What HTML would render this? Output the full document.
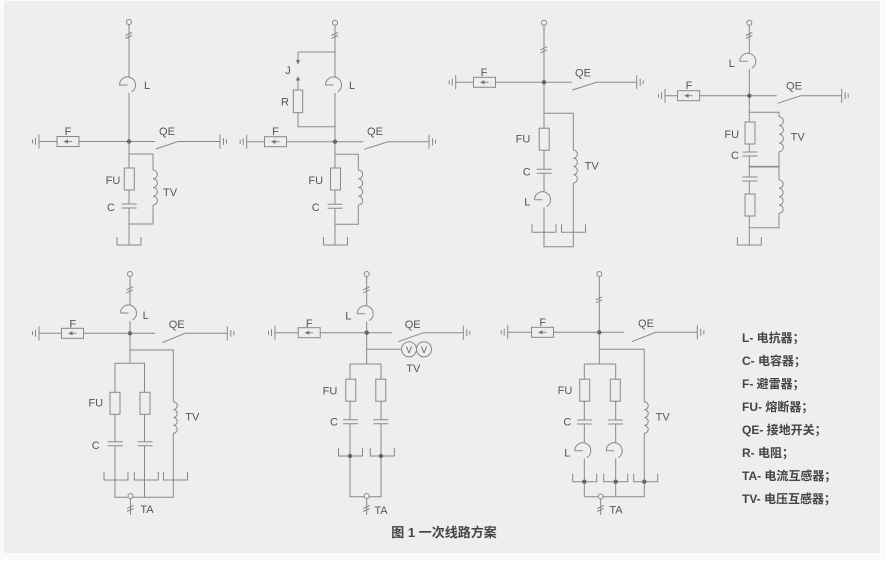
<!DOCTYPE html>
<html><head><meta charset="utf-8"><style>
html,body{margin:0;padding:0;background:#fafafa;}
svg{display:block;}
.t{font-family:"Liberation Sans","Noto Sans CJK SC",sans-serif;font-size:11px;fill:#555;text-anchor:middle;}
.lg{font-family:"Liberation Sans","Noto Sans CJK SC",sans-serif;font-size:12px;font-weight:bold;fill:#444;}
.cap{font-family:"Liberation Sans","Noto Sans CJK SC",sans-serif;font-size:13px;font-weight:bold;fill:#444;text-anchor:middle;}
</style></head><body>
<svg width="885" height="561" viewBox="0 0 885 561" xmlns="http://www.w3.org/2000/svg">
<defs>
<g id="gl"><path d="M0 -7V7M-3.5 -3.5V3.5M-6.5 -2V2"/></g>
<g id="gr"><path d="M0 -7V7M3.5 -3.5V3.5M6.5 -2V2"/></g>
<g id="fa"><rect x="-11" y="-5" width="22" height="10" fill="#eeeeee"/><path d="M4 0H-1"/><path d="M-4.5 0L0 -2.2V2.2Z" fill="#777" stroke="none"/></g>
<g id="re"><path d="M-9.5 8A8 8 0 1 1 2.5 14.93M-9.5 8H-1.5"/></g>
<g id="fu"><rect x="-5" y="-11" width="10" height="22" fill="#eeeeee"/></g>
<g id="ca"><rect x="-8" y="-2" width="16" height="4" fill="#eeeeee" stroke="none"/><path d="M-7.5 -2H7.5M-7.5 2H7.5"/></g>
<g id="gb"><path d="M-12 -8V0H12V-8"/></g>
<g id="br"><path d="M-3.5 0.5L3 -2.5M-3.5 3.5L3 0.5"/></g>
<g id="tm"><circle r="2.5" fill="#eeeeee"/></g>
<g id="nd"><circle r="2.2" fill="#666" stroke="none"/></g>
</defs>
<rect x="4" y="1" width="876" height="552" fill="#eeeeee"/>
<g stroke="#888" fill="none" stroke-width="1">
<!-- Diagram 1 -->
<path d="M129 24.5V77M129 93V245M39 141.5H155M155.7 149L178 141.5H220M129 154H153V170M153 205V224H129"/>
<path d="M153 170a4.375 4.375 0 0 1 0 8.75a4.375 4.375 0 0 1 0 8.75a4.375 4.375 0 0 1 0 8.75a4.375 4.375 0 0 1 0 8.75"/>
<use href="#re" x="129" y="77"/><use href="#br" x="129" y="35"/><use href="#tm" x="129" y="22"/>
<use href="#gl" x="39" y="141.5"/><use href="#gr" x="220" y="141.5"/><use href="#fa" x="68" y="141.5"/>
<use href="#fu" x="129.3" y="179"/><use href="#ca" x="129.2" y="206"/><use href="#gb" x="129" y="245"/><use href="#nd" x="129" y="141.5"/>

<!-- Diagram 2 -->
<path d="M335 24.5V77M335 93V245M298 52H335M298 52V61M298 80V90M298 112.7V126.7H335M246.7 141.7H363.3M364 149.3L388.3 141.7H429M335 154.3H358.3V170M358.3 205V224.3H335"/>
<path d="M295.8 60H300.2L298 64.5Z M295.8 80.5H300.2L298 76Z" fill="#777" stroke="none"/>
<rect x="293.3" y="90" width="9.4" height="22.7" fill="#eeeeee"/>
<path d="M358.3 170a4.375 4.375 0 0 1 0 8.75a4.375 4.375 0 0 1 0 8.75a4.375 4.375 0 0 1 0 8.75a4.375 4.375 0 0 1 0 8.75"/>
<use href="#re" x="335" y="77"/><use href="#br" x="335" y="35"/><use href="#tm" x="335" y="22.7"/>
<use href="#gl" x="246.7" y="141.7"/><use href="#gr" x="429" y="141.7"/><use href="#fa" x="275.5" y="141.7"/>
<use href="#fu" x="335.5" y="179"/><use href="#ca" x="335" y="206.2"/><use href="#gb" x="335.5" y="245"/><use href="#nd" x="335" y="141.7"/>

<!-- Diagram 3 -->
<path d="M544 25V191.7M544 207.5V246.7H573.3V183M573.3 150V113.3H544M455.7 82.3H571.7M572.3 90L596.7 82.3H636.7"/>
<path d="M573.3 150a4.125 4.125 0 0 1 0 8.25a4.125 4.125 0 0 1 0 8.25a4.125 4.125 0 0 1 0 8.25a4.125 4.125 0 0 1 0 8.25"/>
<use href="#re" x="544" y="191.7"/><use href="#br" x="544" y="49.3"/><use href="#tm" x="544" y="22.7"/>
<use href="#gl" x="455.7" y="82.3"/><use href="#gr" x="636.7" y="82.3"/><use href="#fa" x="484.5" y="82.3"/>
<use href="#fu" x="544.2" y="139.2"/><use href="#ca" x="544.2" y="171.3"/>
<use href="#gb" x="544" y="232.3"/><use href="#gb" x="573.5" y="232.3"/><use href="#nd" x="544" y="82.3"/>

<!-- Diagram 4 -->
<path d="M749.3 25V53.3M749.3 69V245M665 95.7H776.7M777.7 103.3L800.7 95.7H841.7M749.3 112.3H779V116.7M779 151.7V180M779 213.3V227.7H749.3"/>
<path d="M749.3 166.7H779" stroke-width="1.6"/>
<path d="M779 116.7a4.375 4.375 0 0 1 0 8.75a4.375 4.375 0 0 1 0 8.75a4.375 4.375 0 0 1 0 8.75a4.375 4.375 0 0 1 0 8.75"/>
<path d="M779 180a4.16 4.16 0 0 1 0 8.33a4.16 4.16 0 0 1 0 8.33a4.16 4.16 0 0 1 0 8.33a4.16 4.16 0 0 1 0 8.33"/>
<use href="#re" x="749.3" y="53.3"/><use href="#br" x="749.3" y="35"/><use href="#tm" x="749.3" y="22.7"/>
<use href="#gl" x="665" y="95.7"/><use href="#gr" x="841.7" y="95.7"/><use href="#fa" x="688.6" y="95.7"/>
<use href="#fu" x="750" y="133"/><use href="#ca" x="750" y="154"/><use href="#ca" x="750" y="179"/><use href="#fu" x="750" y="205"/>
<use href="#gb" x="749.3" y="245"/><use href="#nd" x="749.3" y="95.7"/>

<!-- Diagram 5 -->
<path d="M130 276.5V305M130 321V363.3M39 333.3H155M162.3 342.7L185 333.3H227.3M130 350H173.3V401.7M173.3 433.3V497.3H115V363.3H144.5V497.3M130.5 499V515"/>
<path d="M173.3 401.7a3.95 3.95 0 0 1 0 7.9a3.95 3.95 0 0 1 0 7.9a3.95 3.95 0 0 1 0 7.9a3.95 3.95 0 0 1 0 7.9"/>
<use href="#re" x="130" y="305"/><use href="#br" x="130" y="289.3"/><use href="#tm" x="130" y="274"/>
<use href="#gl" x="39" y="333.3"/><use href="#gr" x="227.3" y="333.3"/><use href="#fa" x="72.5" y="333.3"/>
<use href="#fu" x="115" y="403.3"/><use href="#fu" x="145" y="403.3"/><use href="#ca" x="115.3" y="443.7"/><use href="#ca" x="145" y="443.7"/>
<use href="#gb" x="116" y="480"/><use href="#gb" x="146.3" y="480"/><use href="#gb" x="175.5" y="480"/>
<use href="#nd" x="130" y="333.3"/><use href="#tm" x="130.5" y="496"/><use href="#br" x="130.5" y="508"/>

<!-- Diagram 6 -->
<path d="M366.7 276.5V305.7M366.7 321.7V364M275 332.7H391.7M398.3 341.7L423.3 332.7H463.3M366.7 349.3H401.5M350 364H381M350 364V496.7H381V364M366.7 499V515"/>
<circle cx="409" cy="349.3" r="7.5"/><circle cx="424" cy="349.3" r="7.5"/>
<use href="#re" x="366.7" y="305.7"/><use href="#br" x="366.7" y="289.3"/><use href="#tm" x="366.7" y="274"/>
<use href="#gl" x="275" y="332.7"/><use href="#gr" x="463.3" y="332.7"/><use href="#fa" x="309.2" y="332.7"/>
<use href="#fu" x="350.8" y="390.2"/><use href="#fu" x="380.8" y="390.2"/><use href="#ca" x="350.5" y="421.7"/><use href="#ca" x="380.8" y="421.7"/>
<use href="#gb" x="350.5" y="456"/><use href="#gb" x="382.3" y="456"/>
<use href="#nd" x="350" y="456"/><use href="#nd" x="381" y="456"/>
<use href="#nd" x="366.7" y="332.7"/><use href="#tm" x="366.7" y="496"/><use href="#br" x="366.7" y="508"/>

<!-- Diagram 7 -->
<path d="M599.3 276.5V364M507.7 332.3H624M631.7 341.7L655.7 332.3H697.3M599.3 349.3H644.3V401.7M644.3 433.3V496.7H584.3M584.3 364H615.7M584.3 364V442.7M584.3 458.5V496.7M615.7 364V442.7M615.7 458.5V496.7M600.7 499.5V515"/>
<path d="M644.3 401.7a3.95 3.95 0 0 1 0 7.9a3.95 3.95 0 0 1 0 7.9a3.95 3.95 0 0 1 0 7.9a3.95 3.95 0 0 1 0 7.9"/>
<use href="#re" x="584.3" y="442.7"/><use href="#re" x="615.7" y="442.7"/>
<use href="#br" x="599.3" y="299.3"/><use href="#tm" x="599.3" y="274"/>
<use href="#gl" x="507.7" y="332.3"/><use href="#gr" x="697.3" y="332.3"/><use href="#fa" x="542.5" y="332.3"/>
<use href="#fu" x="584.7" y="390.2"/><use href="#fu" x="615.3" y="390.2"/><use href="#ca" x="584.5" y="422"/><use href="#ca" x="615.5" y="422"/>
<use href="#gb" x="584.7" y="481.7"/><use href="#gb" x="615.7" y="481.7"/><use href="#gb" x="645.7" y="481.7"/>
<use href="#nd" x="584.3" y="481.7"/><use href="#nd" x="615.7" y="481.7"/><use href="#nd" x="644.3" y="481.7"/>
<use href="#nd" x="599.3" y="332.3"/><use href="#tm" x="600.7" y="496.5"/><use href="#br" x="600.7" y="508"/>
</g>

<!-- labels -->
<g class="t">
<text x="147" y="89">L</text><text x="68" y="135">F</text><text x="167" y="135">QE</text><text x="113" y="184">FU</text><text x="111" y="211">C</text><text x="170" y="196">TV</text>
<text x="288" y="74">J</text><text x="285" y="105.5">R</text><text x="352" y="89">L</text><text x="275.5" y="135">F</text><text x="375" y="135">QE</text><text x="315.7" y="184">FU</text><text x="315.7" y="211">C</text>
<text x="484" y="76">F</text><text x="583" y="76.5">QE</text><text x="523" y="142.5">FU</text><text x="526.7" y="175.5">C</text><text x="527.3" y="205.5">L</text><text x="591.7" y="169.5">TV</text>
<text x="731.7" y="67">L</text><text x="689" y="89">F</text><text x="794" y="89.5">QE</text><text x="731.7" y="138">FU</text><text x="735" y="159">C</text><text x="797.7" y="140.5">TV</text>
<text x="145.7" y="319">L</text><text x="72.7" y="327.5">F</text><text x="176.7" y="328">QE</text><text x="95.7" y="406.5">FU</text><text x="95.7" y="449">C</text><text x="192.3" y="420.5">TV</text><text x="147" y="513">TA</text>
<text x="348.3" y="319.5">L</text><text x="309.3" y="327">F</text><text x="412.7" y="328">QE</text><text x="413.3" y="372">TV</text><text x="330" y="394.5">FU</text><text x="334" y="425.5">C</text><text x="381" y="514">TA</text>
<text x="409" y="353" font-size="9">V</text><text x="424" y="353" font-size="9">V</text>
<text x="542.7" y="326">F</text><text x="646" y="327">QE</text><text x="565" y="394">FU</text><text x="567.3" y="425.5">C</text><text x="567.3" y="456.5">L</text><text x="662.7" y="420.5">TV</text><text x="616" y="513.5">TA</text>
</g>
<g class="lg">
<text x="742" y="342">L- 电抗器；</text>
<text x="742" y="365">C- 电容器；</text>
<text x="742" y="388">F- 避雷器；</text>
<text x="742" y="411">FU- 熔断器；</text>
<text x="742" y="434">QE- 接地开关；</text>
<text x="742" y="457">R- 电阻；</text>
<text x="742" y="480">TA- 电流互感器；</text>
<text x="742" y="503">TV- 电压互感器；</text>
</g>
<text class="cap" x="444" y="537">图 1 一次线路方案</text>
</svg>
</body></html>
